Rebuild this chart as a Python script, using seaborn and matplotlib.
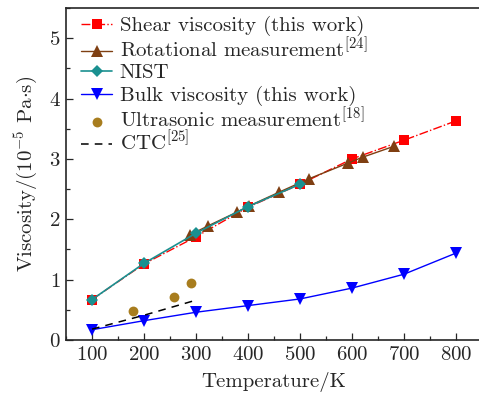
import matplotlib
matplotlib.use("Agg")
import matplotlib.pyplot as plt
import seaborn as sns
import numpy as np
import pandas as pd
from matplotlib.ticker import MultipleLocator

sns.set_style("ticks")
plt.rcParams['font.family'] = 'serif'
plt.rcParams['font.serif'] = ['cmr10']
plt.rcParams['mathtext.fontset'] = 'cm'
plt.rcParams['axes.formatter.use_mathtext'] = True
plt.rcParams['axes.unicode_minus'] = False

# Data
shear_T = [100, 200, 300, 400, 500, 600, 700, 800]
shear_v = [0.67, 1.26, 1.71, 2.20, 2.58, 3.00, 3.31, 3.63]

rot_T = [288, 323, 379, 402, 460, 517, 592, 621, 681]
rot_v = [1.74, 1.89, 2.12, 2.22, 2.45, 2.67, 2.93, 3.03, 3.21]

nist_T = [100, 200, 300, 400, 500]
nist_v = [0.67, 1.27, 1.77, 2.21, 2.58]

bulk_T = [100, 200, 300, 400, 500, 600, 700, 800]
bulk_v = [0.17, 0.32, 0.46, 0.57, 0.68, 0.86, 1.09, 1.44]

ultra_T = [179, 258, 290]
ultra_v = [0.48, 0.72, 0.95]

ctc_T = [100, 200, 300]
ctc_v = [0.18, 0.41, 0.66]

labels = ["Shear viscosity (this work)",
          r"Rotational measurement$^{[24]}$",
          "NIST",
          "Bulk viscosity (this work)",
          r"Ultrasonic measurement$^{[18]}$",
          r"CTC$^{[25]}$"]

FS = 15

fig = plt.figure(figsize=(4.79, 3.95), dpi=100)
ax = fig.add_axes([66/479, 1-340/395, 416/479, 332/395])

sns.lineplot(x=shear_T, y=shear_v, ax=ax, color='#ff0000', linestyle='-.', lw=1,
             marker='s', markersize=7, markeredgewidth=0, label=labels[0])
sns.lineplot(x=rot_T, y=rot_v, ax=ax, color='#7f3f12', linestyle='-', lw=1,
             marker='^', markersize=8, markeredgewidth=0, label=labels[1])
sns.lineplot(x=nist_T, y=nist_v, ax=ax, color='#1a9090', linestyle='-', lw=1.2,
             marker='D', markersize=6, markeredgewidth=0, label=labels[2])
sns.lineplot(x=bulk_T, y=bulk_v, ax=ax, color='#0000ff', linestyle='-', lw=1,
             marker='v', markersize=8, markeredgewidth=0, label=labels[3])
sns.scatterplot(x=ultra_T, y=ultra_v, ax=ax, color='#a87d1e', marker='o', s=50,
                linewidth=0, label=labels[4])
sns.lineplot(x=ctc_T, y=ctc_v, ax=ax, color='black', linestyle=(0, (5, 4)), lw=1.1,
             label=labels[5])

ax.set_xlim(50, 850)
ax.set_ylim(0, 5.5)
ax.xaxis.set_major_locator(MultipleLocator(100))
ax.xaxis.set_minor_locator(MultipleLocator(50))
ax.yaxis.set_major_locator(MultipleLocator(1))
ax.yaxis.set_minor_locator(MultipleLocator(0.5))
ax.tick_params(which='both', direction='in', labelsize=FS, top=False, right=False)
ax.tick_params(which='major', length=5, width=0.9, pad=4)
ax.tick_params(which='minor', length=3, width=0.9)
for s in ax.spines.values():
    s.set_linewidth(1.2)
ax.set_xticks([100, 200, 300, 400, 500, 600, 700, 800])
ax.set_xlabel("Temperature/K", fontsize=FS, labelpad=6)
ax.set_ylabel(r"Viscosity/(10$^{-5}$ Pa$\cdot$s)", fontsize=FS, labelpad=6)

# legend: one row per entry, evenly spaced
handles, labs = ax.get_legend_handles_labels()
if ax.get_legend():
    ax.get_legend().remove()
row_y0 = 26
row_dy = 23.3
for i, (h, l) in enumerate(zip(handles, labs)):
    y = 1 - (row_y0 + i * row_dy) / 395
    fig.legend([h], [l], loc='center left', bbox_to_anchor=(81/479, y),
               bbox_transform=fig.transFigure, frameon=False, fontsize=FS,
               handlelength=1.5, handletextpad=0.35, borderpad=0,
               borderaxespad=0)

fig.savefig("out.png", dpi=100)
